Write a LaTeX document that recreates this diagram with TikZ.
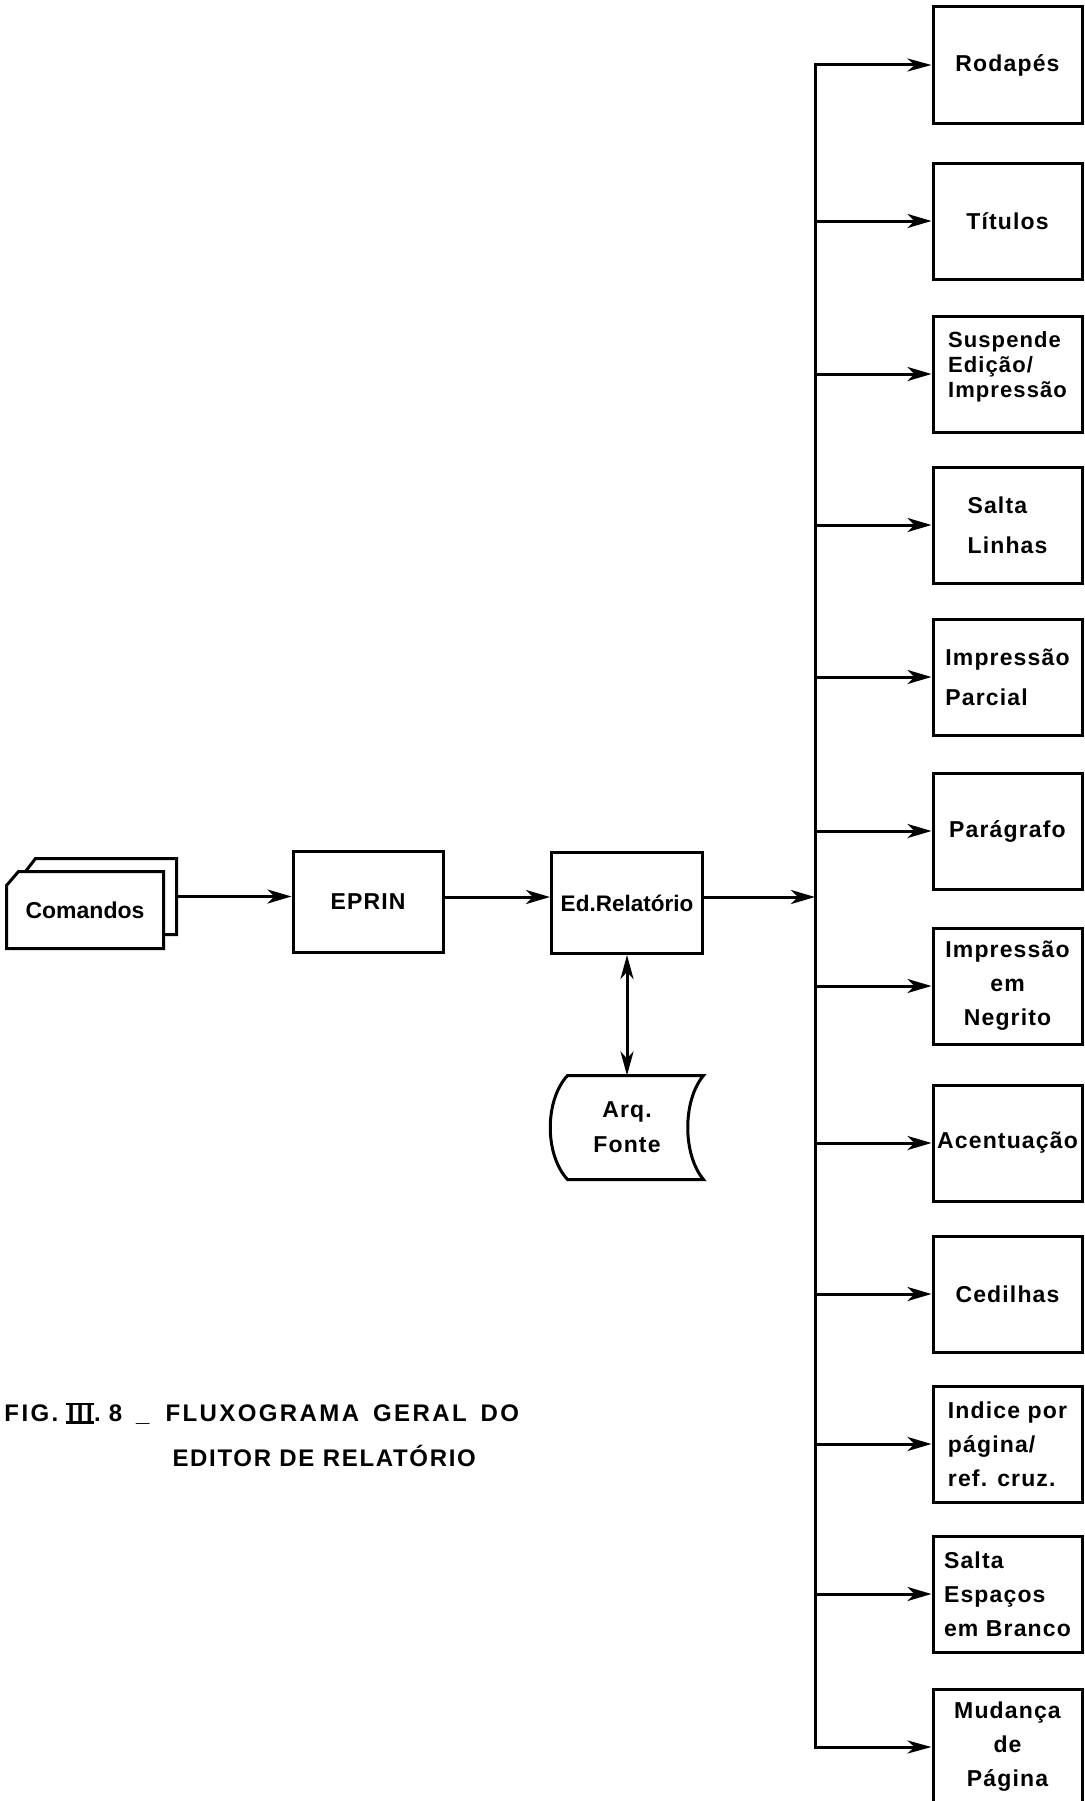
\documentclass[tikz,border=0pt]{standalone}
\usepackage{fontspec}
\setmainfont{Liberation Sans}
\newfontfamily\lettering[LetterSpace=5]{Liberation Sans}
\newfontfamily\capfont[LetterSpace=10]{Liberation Sans}
\newfontfamily\capfontb[LetterSpace=7]{Liberation Sans}
\usetikzlibrary{arrows.meta,calc}
\newcommand\romIII{\setbox0\hbox{\kern1.5pt III\kern1.5pt}\leavevmode\rlap{\rule[-2pt]{\wd0}{2.2pt}}\rlap{\rule[\ht0]{\wd0}{2.2pt}}\box0}
\begin{document}
\begin{tikzpicture}[x=1pt,y=-1pt,line width=3pt,
  every node/.style={inner sep=0pt},
  mainbox/.style={draw, minimum width=150pt, minimum height=101pt, font=\lettering\bfseries\fontsize{23}{30}\selectfont},
  optbox/.style={draw, minimum width=149pt, minimum height=116pt, font=\lettering\bfseries\fontsize{23}{34}\selectfont, align=center},
  arr/.style={-{Stealth[length=24pt,width=14pt,inset=7pt]}},
  dbl/.style={{Stealth[length=24pt,width=13pt,inset=7pt]}-{Stealth[length=24pt,width=13pt,inset=7pt]}},
  captext/.style={anchor=base west, font=\capfont\bfseries\fontsize{24}{30}\selectfont}]
\useasboundingbox (0,0) rectangle (1084,1801);

% Comandos (stacked cards)
\node[minimum width=148pt, minimum height=73pt] (cmdb) at (101,896.5) {};
\node[minimum width=154pt, minimum height=74pt, font=\bfseries\fontsize{23}{28}\selectfont] (cmd) at (85,910) {Comandos};
\draw ([yshift=-13pt]cmdb.north west) -- ([xshift=10pt]cmdb.north west) -- (cmdb.north east) -- (cmdb.south east) -- (cmdb.south east -| cmd.east);
\draw ([yshift=-14pt]cmd.north west) -- ([xshift=12pt]cmd.north west) -- (cmd.north east) -- (cmd.south east) -- (cmd.south west) -- cycle;

% main boxes
\node[mainbox] (ep) at (368,902) {EPRIN};
\node[mainbox, minimum width=151pt, font=\bfseries\fontsize{22.5}{28}\selectfont] (ed) at (627,903) {Ed.Relatório};

% Arq. Fonte (stored data)
\node[minimum width=150pt, minimum height=101pt, align=center, font=\lettering\bfseries\fontsize{23}{35}\selectfont] (arq) at (627,1127.5) {Arq.\\Fonte};
\draw ($(arq.north west)+(17,0)$) -- (arq.north east)
  .. controls ($(arq.east)+(-21,-27)$) and ($(arq.east)+(-21,27)$) .. (arq.south east)
  -- ($(arq.south west)+(17,0)$)
  .. controls ($(arq.west)+(-6,27)$) and ($(arq.west)+(-6,-27)$) .. cycle;

% option boxes
\node[optbox] (r1) at (1007.5,65) {Rodapés};
\node[optbox] (r2) at (1007.5,221) {Títulos};
\node[optbox, align=left, font=\lettering\bfseries\fontsize{22}{25}\selectfont] (r3) at (1007.5,374) {Suspende\\Edição/\\Impressão\\[-6pt]\mbox{}};
\node[optbox, align=left, font=\lettering\bfseries\fontsize{23}{40}\selectfont] (r4) at (1007.5,525) {Salta\\Linhas};
\node[optbox, align=left, font=\lettering\bfseries\fontsize{23}{40}\selectfont] (r5) at (1007.5,677) {Impressão\\Parcial};
\node[optbox] (r6) at (1007.5,831) {Parágrafo};
\node[optbox] (r7) at (1007.5,986) {Impressão\\em\\Negrito};
\node[optbox] (r8) at (1007.5,1143) {Acentuação};
\node[optbox] (r9) at (1007.5,1294) {Cedilhas};
\node[optbox, align=left] (r10) at (1007.5,1444) {Indice por\\página/\\ref. cruz.};
\node[optbox, align=left] (r11) at (1007.5,1594) {Salta\\Espaços\\em Branco};
\node[optbox] (r12) at (1007.5,1747) {Mudança\\de\\Página};

% connectors
\coordinate (bus) at (815,0);
\draw[arr] (cmdb.east) -- (cmdb.east -| ep.west);
\draw[arr] ([yshift=5pt]ep.east) -- ([yshift=5pt]ep.east -| ed.west);
\draw[arr] ([yshift=6pt]ed.east) -- ([yshift=6pt]ed.east -| bus);
\draw[dbl] (ed) -- (arq);
\draw[dbl] (r1.west) -- (r1.west -| bus) -- (r12.west -| bus) -- (r12.west);
\foreach \r in {r2,r3,r4,r5,r6,r7,r8,r9,r10,r11}
  \draw[arr] (\r.west -| bus) -- (\r.west);

% caption
\node[captext] (cap1) at (3,1421.5) {FIG.\hspace{8pt}\romIII.\hspace{8pt}8\hspace{14pt}\_\hspace{16pt}FLUXOGRAMA\hspace{14pt}GERAL\hspace{14pt}DO};
\node[captext, font=\capfontb\bfseries\fontsize{24}{30}\selectfont] (cap2) at (171,1466.5) {EDITOR DE RELATÓRIO};
\end{tikzpicture}
\end{document}
